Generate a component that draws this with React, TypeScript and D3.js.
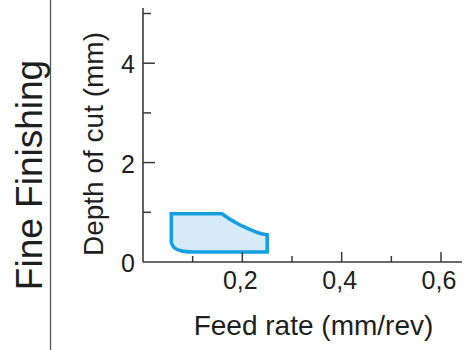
import React from "react";
import * as d3 from "d3";

// Axis ticks
const yTicks = [1, 2, 3, 4, 5];
const yLabelTicks = [0, 2, 4];
const xTicks = [0.1, 0.2, 0.3, 0.4, 0.5, 0.6];
const xLabelTicks = [0.2, 0.4, 0.6];

// Operating region boundary (feed mm/rev, depth mm), clockwise from top-left
const topEdgeFeed = [0.057, 0.159];
const topEdgeDepth = [0.97, 0.97];
const topCurveFeed = [0.159, 0.175, 0.19, 0.205, 0.22, 0.235, 0.25];
const topCurveDepth = [0.97, 0.86, 0.775, 0.7, 0.635, 0.58, 0.55];
const rightBottomFeed = [0.25, 0.25, 0.1];
const rightBottomDepth = [0.55, 0.2, 0.2];
const cornerFeed = [0.1, 0.078, 0.064, 0.058, 0.057];
const cornerDepth = [0.2, 0.22, 0.28, 0.36, 0.42];

const W = 475;
const H = 350;
const FONT = "'Liberation Sans', Arial, Helvetica, sans-serif";

export default function App() {
  const x = d3.scaleLinear().domain([0, 0.6]).range([143, 441]);
  const y = d3.scaleLinear().domain([0, 5]).range([262, 13.5]);

  const zip = (a: number[], b: number[]) => a.map((v, i) => [v, b[i]] as [number, number]);
  const lin = d3.line<[number, number]>().x((d) => x(d[0])).y((d) => y(d[1]));
  const cur = d3
    .line<[number, number]>()
    .x((d) => x(d[0]))
    .y((d) => y(d[1]))
    .curve(d3.curveCatmullRom.alpha(0.5));

  const seg = (s: string | null, first: boolean) => {
    const str = s || "";
    return first ? str : str.replace(/^M[^CLQ]*/, (m) => "L" + m.slice(1));
  };
  const d =
    seg(lin(zip(topEdgeFeed, topEdgeDepth)), true) +
    seg(cur(zip(topCurveFeed, topCurveDepth)), false) +
    seg(lin(zip(rightBottomFeed, rightBottomDepth)), false) +
    seg(cur(zip(cornerFeed, cornerDepth)), false) +
    "Z";

  const axisColor = "#3a3a3a";
  const textColor = "#1e1e1e";

  return (
    <svg
      width={W}
      height={H}
      style={{ position: "absolute", left: 0, top: 0, background: "#fff" }}
    >
      {/* separator line */}
      <line x1={50.5} x2={50.5} y1={0} y2={H} stroke="#555" strokeWidth={1.3} />
      <text
        transform={`translate(42, 175) rotate(-90)`}
        textAnchor="middle"
        fontFamily={FONT}
        fontSize={37}
        fill={textColor}
      >
        Fine Finishing
      </text>

      {/* region */}
      <path d={d} fill="#d6eaf8" stroke="#14a0e0" strokeWidth={3.6} strokeLinejoin="miter" />

      {/* y axis */}
      <line x1={x(0)} x2={x(0)} y1={8} y2={y(0)} stroke={axisColor} strokeWidth={1.6} />
      {yTicks.map((t) => (
        <line
          key={"yt" + t}
          x1={x(0)}
          x2={x(0) + (t % 2 === 0 ? 12 : 8)}
          y1={y(t)}
          y2={y(t)}
          stroke={axisColor}
          strokeWidth={1.5}
        />
      ))}
      {yLabelTicks.map((t) => (
        <text
          key={"yl" + t}
          x={135}
          y={y(t) + 1}
          textAnchor="end"
          dominantBaseline="central"
          fontFamily={FONT}
          fontSize={25}
          fill={textColor}
        >
          {t}
        </text>
      ))}
      <text
        transform={`translate(103, 144) rotate(-90)`}
        textAnchor="middle"
        fontFamily={FONT}
        fontSize={28}
        fill={textColor}
      >
        Depth of cut (mm)
      </text>

      {/* x axis */}
      <line x1={x(0)} x2={462} y1={y(0)} y2={y(0)} stroke={axisColor} strokeWidth={1.6} />
      {xTicks.map((t) => (
        <line
          key={"xt" + t}
          x1={x(t)}
          x2={x(t)}
          y1={y(0)}
          y2={y(0) - (Math.round(t * 10) % 2 === 0 ? 10 : 6)}
          stroke={axisColor}
          strokeWidth={1.5}
        />
      ))}
      {xLabelTicks.map((t) => (
        <text
          key={"xl" + t}
          x={x(t) - 2}
          y={289}
          textAnchor="middle"
          fontFamily={FONT}
          fontSize={25}
          fill={textColor}
        >
          {d3.format(".1f")(t).replace(".", ",")}
        </text>
      ))}
      <text
        x={313.5}
        y={335}
        textAnchor="middle"
        fontFamily={FONT}
        fontSize={28}
        fill={textColor}
      >
        Feed rate (mm/rev)
      </text>
    </svg>
  );
}
